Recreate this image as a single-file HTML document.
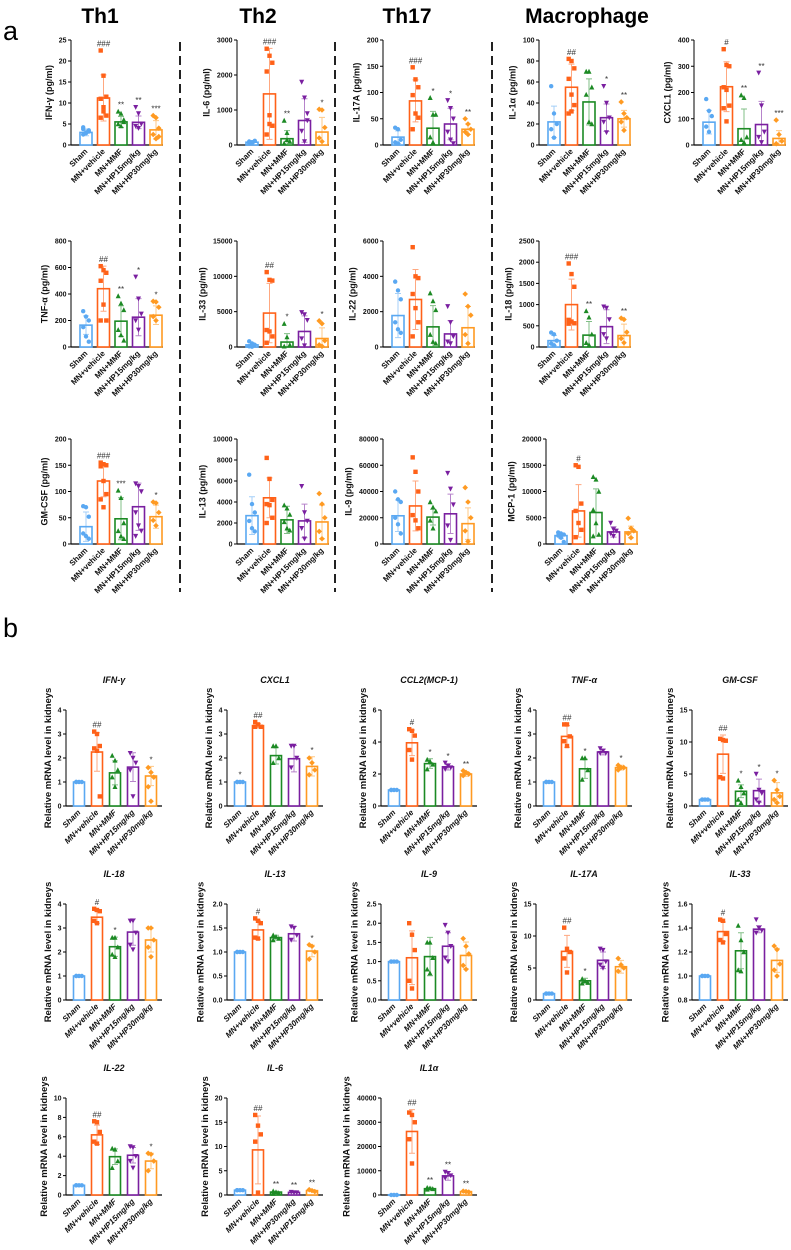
<!DOCTYPE html>
<html><head><meta charset="utf-8"><style>
html,body{margin:0;padding:0;background:#fff;}
svg{display:block;font-family:"Liberation Sans",Arial,sans-serif;}
</style></head><body>
<svg id="fig" width="791" height="1250" viewBox="0 0 791 1250" xmlns="http://www.w3.org/2000/svg">
<text x="3" y="40" font-size="27">a</text>
<text x="3" y="637" font-size="27">b</text>
<text x="100" y="23" font-size="21" font-weight="bold" text-anchor="middle">Th1</text>
<text x="258" y="23" font-size="21" font-weight="bold" text-anchor="middle">Th2</text>
<text x="407" y="23" font-size="21" font-weight="bold" text-anchor="middle">Th17</text>
<text x="587" y="23" font-size="21" font-weight="bold" text-anchor="middle">Macrophage</text>
<line x1="180" y1="42" x2="180" y2="592" stroke="#222" stroke-width="2" stroke-dasharray="9 5"/>
<line x1="335" y1="42" x2="335" y2="592" stroke="#222" stroke-width="2" stroke-dasharray="9 5"/>
<line x1="492" y1="42" x2="492" y2="592" stroke="#222" stroke-width="2" stroke-dasharray="9 5"/>
</svg>
<script>
const groups = ["Sham","MN+vehicle","MN+MMF","MN+HP15mg/kg","MN+HP30mg/kg"];
const groupsIL6 = ["Sham","MN+vehicle","MN+MMF","MN+HP30mg/kg","MN+HP15mg/kg"];
// Panel a
const ifngMeans=[3,11.2,5.5,5.4,3.6], ifngSd=[0.8,5.5,1.3,1.5,2.2], ifngAnn=["","###","**","**","***"];
const ifngPts=[[2.5,3,3.5,4.2,2.8,3.2,3.8],[22.5,16.5,11.5,11,9,7,6.5,8],[8,7.5,6,5,4.5,5.5],[9,7.5,5,4.5,4],[7,6.5,4,2.5,1.5,2]];
const ifngTicks=[0,5,10,15,20,25];
const il6Means=[80,1460,180,700,370], il6Sd=[40,1300,230,620,420], il6Ann=["","###","**","","*"];
const il6Pts=[[50,80,120,100,60],[2750,2550,2350,2100,850,550,300,600],[700,350,100,50,150],[1800,1350,900,400,100,700],[1020,1000,500,200,100]];
const il6Ticks=[0,1000,2000,3000];
const il17Means=[15,84,32,40,30], il17Sd=[12,40,32,30,10], il17Ann=["","###","*","*","**"];
const il17Pts=[[33,30,10,5,3],[148,125,110,95,60,52,30],[90,58,58,15,5],[85,70,50,25,10,3],[50,40,30,25,20]];
const il17Ticks=[0,50,100,150,200];
const il1aMeans=[22,55,41,26,25], il1aSd=[15,22,22,13,8], il1aAnn=["","##","","*","**"];
const il1aPts=[[56,30,20,15,7],[82,80,73,63,48,38,30,32],[70,70,55,48,22,20],[56,40,26,22,12],[41,30,26,22,14]];
const il1aTicks=[0,20,40,60,80,100];
const cxclMeans=[87,222,62,78,25], cxclSd=[45,95,75,88,30], cxclAnn=["","#","**","**","***"];
const cxclPts=[[175,130,110,70,50],[365,305,300,220,210,150,140,90],[190,180,30,20,10],[275,150,50,30,10],[95,40,15,5]];
const cxclTicks=[0,100,200,300,400];
const tnfMeans=[165,440,195,225,240], tnfSd=[70,170,115,140,70], tnfAnn=["","##","**","*","*"];
const tnfPts=[[270,230,200,150,80,40],[610,580,560,500,320,200,200],[385,330,280,130,90,50],[530,365,250,200,130],[345,340,300,230,200]];
const tnfTicks=[0,200,400,600,800];
const il33Means=[300,4800,700,2200,1200], il33Sd=[300,4200,1200,2200,1500], il33Ann=["","##","*","","*"];
const il33Pts=[[800,500,300,100,50],[10600,9500,9400,2400,2200,1500,600],[3300,1400,300,100],[4900,4600,3800,1200,200],[3700,3300,900,300,100]];
const il33Ticks=[0,5000,10000,15000];
const il22Means=[1780,2690,1140,740,1090], il22Sd=[1250,1700,1200,750,1200], il22Ann=["","","","",""];
const il22Pts=[[3700,3200,2700,1400,1000,800],[5650,4000,3900,3000,2200,1400,600],[3050,2600,2100,700,300,200],[2300,1400,600,300,200],[3000,2300,1800,700,200]];
const il22Ticks=[0,2000,4000,6000];
const il18Means=[150,1000,280,480,270], il18Sd=[120,600,320,400,270], il18Ann=["","###","**","","**"];
const il18Pts=[[340,300,150,80,40],[1970,1720,1420,640,600,560,550],[850,700,300,100,50],[950,920,650,300,200],[680,650,350,200,100]];
const il18Ticks=[0,500,1000,1500,2000,2500];
const gmMeans=[33,120,48,71,52], gmSd=[28,30,40,45,22], gmAnn=["","###","***","","*"];
const gmPts=[[72,70,52,20,15,10],[155,152,150,148,120,95,85,70],[102,88,40,25,15,10],[115,110,100,60,35,25,15],[80,78,60,45,35]];
const gmTicks=[0,50,100,150,200];
const il13Means=[2700,4400,2300,2200,2100], il13Sd=[1800,1900,1300,1600,1600], il13Ann=["","","","",""];
const il13Pts=[[6600,3800,3000,2200,1500,1200],[8200,6200,4200,3800,3700,2500,2000],[3700,3400,2800,2100,1500,1300],[5500,3000,2200,1500,500],[4800,3800,2500,1200,500]];
const il13Ticks=[0,2000,4000,6000,8000,10000];
const il9Means=[21500,29000,20500,23000,15500], il9Sd=[12000,19000,6000,15000,12000], il9Ann=["","","","",""];
const il9Pts=[[40000,34000,32000,20000,15000,8000],[66000,55000,40000,22000,18000,12000],[32000,28000,25000,18000,12000],[54000,42000,30000,14000,3000],[43000,32000,20000,10000,2000]];
const il9Ticks=[0,20000,40000,60000,80000];
const mcpMeans=[1600,6300,6000,2300,2300], mcpSd=[500,5000,4500,1000,1100], mcpAnn=["","#","","",""];
const mcpPts=[[2200,2000,1800,1600,1200,400],[15000,14700,7700,6300,4000,2700,1300],[12800,12300,10000,6500,4000,1800,1500],[4000,2800,2500,2000,1500],[4900,3000,2500,2000,1200]];
const mcpTicks=[0,5000,10000,15000,20000];
// Panel b
const bIfnMeans=[1,2.25,1.38,1.62,1.25], bIfnSd=[0.03,0.8,0.5,0.6,0.4], bIfnAnn=["","##","","","*"];
const bIfnPts=[[1,1,1,1],[3.1,3,2.5,2.4,2.3,0.4],[2.1,1.9,1.5,1.2,0.8],[2.2,2,1.8,1.5,0.4],[1.6,1.4,1.2,0.8,0.2]];
const bIfnTicks=[0,1,2,3,4];
const bCxMeans=[1,3.35,2.1,1.97,1.65], bCxSd=[0.02,0.08,0.35,0.55,0.4], bCxAnn=["*","##","","","*"];
const bCxPts=[[1,1,1,1],[3.5,3.4,3.3,3.3],[2.5,2.5,2,1.8],[2.5,2.5,2,1.6],[2,1.8,1.5,1.3]];
const bCxTicks=[0,1,2,3,4];
const bCclMeans=[1,3.95,2.65,2.45,2], bCclSd=[0.05,0.8,0.3,0.2,0.15], bCclAnn=["","#","*","*","**"];
const bCclPts=[[1,1,1,1],[4.8,4.7,4.4,3.5,2.9],[2.9,2.8,2.6,2.3],[2.7,2.5,2.4,2.3],[2.2,2.1,2,1.9]];
const bCclTicks=[0,2,4,6];
const bTnfMeans=[1,2.9,1.55,2.25,1.6], bTnfSd=[0.03,0.45,0.4,0.12,0.1], bTnfAnn=["","##","*","","*"];
const bTnfPts=[[1,1,1,1],[3.4,3.4,2.9,2.7,2.5],[2,2,1.5,1.1],[2.4,2.3,2.2,2.2],[1.7,1.6,1.6,1.5]];
const bTnfTicks=[0,1,2,3,4];
const bGmMeans=[1,8.1,2.3,2.4,2.05], bGmSd=[0.05,3,1,1.8,1.6], bGmAnn=["","##","*","*","*"];
const bGmPts=[[1,1,1,1],[10.5,10.3,10.2,4.5,4.3],[4,3,2,1,0.5],[5,2.5,2,1,0.5],[4,2.5,1.5,1,0.5]];
const bGmTicks=[0,5,10,15];
const bIl18Means=[1,3.45,2.22,2.83,2.5], bIl18Sd=[0.03,0.25,0.4,0.55,0.5], bIl18Ann=["","#","*","",""];
const bIl18Pts=[[1,1,1,1],[3.8,3.75,3.7,3.3,3.2],[2.6,2.6,2.2,1.9,1.8],[3.3,3.3,2.8,2.3,2.1],[3,3,2.5,2.2,1.8]];
const bIl18Ticks=[0,1,2,3,4];
const bIl13Means=[1,1.46,1.3,1.38,1.02], bIl13Sd=[0.02,0.2,0.05,0.15,0.12], bIl13Ann=["","#","","","*"];
const bIl13Pts=[[1,1,1,1],[1.7,1.65,1.6,1.3,1.28],[1.35,1.32,1.28,1.25],[1.53,1.5,1.35,1.25],[1.15,1.12,1,0.85]];
const bIl13Ticks=[0,0.5,1,1.5,2], bIl13Labels=["0.0","0.5","1.0","1.5","2.0"];
const bIl9Means=[1,1.1,1.13,1.4,1.16], bIl9Sd=[0.02,0.7,0.5,0.35,0.35], bIl9Ann=["","","","",""];
const bIl9Pts=[[1,1,1,1],[2,1.7,1.3,0.5,0.3],[1.5,1.5,1.1,0.8,0.7],[1.95,1.75,1.4,1.1,1],[1.6,1.4,1.2,0.9,0.8]];
const bIl9Ticks=[0,0.5,1,1.5,2,2.5], bIl9Labels=["0.0","0.5","1.0","1.5","2.0","2.5"];
const bIl17Means=[1,7.6,3,6.2,5.2], bIl17Sd=[0.05,2.5,0.4,1.3,1], bIl17Ann=["","##","*","",""];
const bIl17Pts=[[1,1,1,1],[11.3,8,7.5,6.5,4.3],[3.3,3,2.7,2.6],[8,7.8,6,5.5,5],[6.5,5.5,5,4.5]];
const bIl17Ticks=[0,5,10,15];
const bIl33Means=[1,1.37,1.21,1.39,1.13], bIl33Sd=[0.005,0.08,0.15,0.03,0.1], bIl33Ann=["","#","","",""];
const bIl33Pts=[[1,1,1,1],[1.47,1.46,1.35,1.3,1.28],[1.42,1.3,1.2,1.05,1.04],[1.47,1.4,1.38,1.36],[1.25,1.22,1.1,1.05,1.0]];
const bIl33Ticks=[0.8,1.0,1.2,1.4,1.6], bIl33Labels=["0.8","1.0","1.2","1.4","1.6"];
const bIl22Means=[1,6.2,3.95,4.1,3.5], bIl22Sd=[0.05,1,0.8,0.8,0.8], bIl22Ann=["","##","","","*"];
const bIl22Pts=[[1,1,1,1],[7.6,7.5,6.5,5.5,5.3],[4.8,4.7,3.5,2.8],[5,4.9,4,3.5,2.8],[4.3,4.2,3.5,2.5]];
const bIl22Ticks=[0,2,4,6,8,10];
const bIl6Means=[1,9.3,0.6,0.55,0.9], bIl6Sd=[0.05,7,0.2,0.1,0.2], bIl6Ann=["","##","**","**","**"];
const bIl6Pts=[[1,1,1,1],[16.5,14.3,12.5,11,0.5],[0.8,0.6,0.4,0.3],[0.6,0.5,0.5],[1.1,0.9,0.7]];
const bIl6Ticks=[0,5,10,15,20];
const bIl1aMeans=[100,26200,2600,7900,1400], bIl1aSd=[50,9000,600,1800,500], bIl1aAnn=["","##","**","**","**"];
const bIl1aPts=[[0,0,0],[34000,33000,30000,23000,13000],[3000,2800,2500,2300],[9500,9000,8000,7000],[1600,1400,1200]];
const bIl1aTicks=[0,10000,20000,30000,40000];

const colors=["#5aa8f2","#ff6118","#1c8a24","#7a1fa0","#ff9a22"];
const NS="http://www.w3.org/2000/svg";
const svg=document.getElementById("fig");
function mk(tag,attrs,parent){const e=document.createElementNS(NS,tag);for(const k in attrs)e.setAttribute(k,attrs[k]);(parent||svg).appendChild(e);return e;}

const aRowT=[40,241,439], aRowB=[145,347,544], aCol=[71,237,383,539,694];
const bRowT=[710,904,1098], bRowB=[806,1000,1195], bCol=[66,227,381,536,692];
const charts=[
 {n:"ifn-gamma",p:"a",r:0,c:0,yl:"IFN-γ (pg/ml)",m:ifngMeans,s:ifngSd,pt:ifngPts,an:ifngAnn,t:ifngTicks},
 {n:"il-6",p:"a",r:0,c:1,yl:"IL-6  (pg/ml)",m:il6Means,s:il6Sd,pt:il6Pts,an:il6Ann,t:il6Ticks},
 {n:"il-17a",p:"a",r:0,c:2,yl:"IL-17A (pg/ml)",m:il17Means,s:il17Sd,pt:il17Pts,an:il17Ann,t:il17Ticks},
 {n:"il-1a",p:"a",r:0,c:3,yl:"IL-1α (pg/ml)",m:il1aMeans,s:il1aSd,pt:il1aPts,an:il1aAnn,t:il1aTicks},
 {n:"cxcl1",p:"a",r:0,c:4,yl:"CXCL1 (pg/ml)",m:cxclMeans,s:cxclSd,pt:cxclPts,an:cxclAnn,t:cxclTicks},
 {n:"tnf-a",p:"a",r:1,c:0,yl:"TNF-α (pg/ml)",m:tnfMeans,s:tnfSd,pt:tnfPts,an:tnfAnn,t:tnfTicks},
 {n:"il-33",p:"a",r:1,c:1,yl:"IL-33 (pg/ml)",m:il33Means,s:il33Sd,pt:il33Pts,an:il33Ann,t:il33Ticks},
 {n:"il-22",p:"a",r:1,c:2,yl:"IL-22  (pg/ml)",m:il22Means,s:il22Sd,pt:il22Pts,an:il22Ann,t:il22Ticks},
 {n:"il-18",p:"a",r:1,c:3,yl:"IL-18  (pg/ml)",m:il18Means,s:il18Sd,pt:il18Pts,an:il18Ann,t:il18Ticks},
 {n:"gm-csf",p:"a",r:2,c:0,yl:"GM-CSF  (pg/ml)",m:gmMeans,s:gmSd,pt:gmPts,an:gmAnn,t:gmTicks},
 {n:"il-13",p:"a",r:2,c:1,yl:"IL-13 (pg/ml)",m:il13Means,s:il13Sd,pt:il13Pts,an:il13Ann,t:il13Ticks},
 {n:"il-9",p:"a",r:2,c:2,yl:"IL-9  (pg/ml)",m:il9Means,s:il9Sd,pt:il9Pts,an:il9Ann,t:il9Ticks},
 {n:"mcp-1",p:"a",r:2,c:3,dx:7,yl:"MCP-1 (pg/ml)",m:mcpMeans,s:mcpSd,pt:mcpPts,an:mcpAnn,t:mcpTicks},
 {n:"mrna-ifn-gamma",p:"b",r:0,c:0,ti:"IFN-γ",m:bIfnMeans,s:bIfnSd,pt:bIfnPts,an:bIfnAnn,t:bIfnTicks},
 {n:"mrna-cxcl1",p:"b",r:0,c:1,ti:"CXCL1",m:bCxMeans,s:bCxSd,pt:bCxPts,an:bCxAnn,t:bCxTicks},
 {n:"mrna-ccl2",p:"b",r:0,c:2,ti:"CCL2(MCP-1)",m:bCclMeans,s:bCclSd,pt:bCclPts,an:bCclAnn,t:bCclTicks},
 {n:"mrna-tnf-a",p:"b",r:0,c:3,ti:"TNF-α",m:bTnfMeans,s:bTnfSd,pt:bTnfPts,an:bTnfAnn,t:bTnfTicks},
 {n:"mrna-gm-csf",p:"b",r:0,c:4,ti:"GM-CSF",m:bGmMeans,s:bGmSd,pt:bGmPts,an:bGmAnn,t:bGmTicks},
 {n:"mrna-il-18",p:"b",r:1,c:0,ti:"IL-18",m:bIl18Means,s:bIl18Sd,pt:bIl18Pts,an:bIl18Ann,t:bIl18Ticks},
 {n:"mrna-il-13",p:"b",r:1,c:1,ti:"IL-13",m:bIl13Means,s:bIl13Sd,pt:bIl13Pts,an:bIl13Ann,t:bIl13Ticks,tl:bIl13Labels},
 {n:"mrna-il-9",p:"b",r:1,c:2,ti:"IL-9",m:bIl9Means,s:bIl9Sd,pt:bIl9Pts,an:bIl9Ann,t:bIl9Ticks,tl:bIl9Labels},
 {n:"mrna-il-17a",p:"b",r:1,c:3,ti:"IL-17A",m:bIl17Means,s:bIl17Sd,pt:bIl17Pts,an:bIl17Ann,t:bIl17Ticks},
 {n:"mrna-il-33",p:"b",r:1,c:4,ti:"IL-33",m:bIl33Means,s:bIl33Sd,pt:bIl33Pts,an:bIl33Ann,t:bIl33Ticks,tl:bIl33Labels},
 {n:"mrna-il-22",p:"b",r:2,c:0,ti:"IL-22",m:bIl22Means,s:bIl22Sd,pt:bIl22Pts,an:bIl22Ann,t:bIl22Ticks},
 {n:"mrna-il-6",p:"b",r:2,c:1,ti:"IL-6",m:bIl6Means,s:bIl6Sd,pt:bIl6Pts,an:bIl6Ann,t:bIl6Ticks,cats:groupsIL6},
 {n:"mrna-il1a",p:"b",r:2,c:2,ti:"IL1α",m:bIl1aMeans,s:bIl1aSd,pt:bIl1aPts,an:bIl1aAnn,t:bIl1aTicks}
];

function marker(g,k,x,y,col){
 const r=2.2;let e;
 if(k===0)e=mk("circle",{cx:x,cy:y,r:r,fill:col},g);
 else if(k===1)e=mk("rect",{x:x-r,y:y-r,width:2*r,height:2*r,fill:col},g);
 else if(k===2)e=mk("polygon",{points:`${x},${y-r-0.5} ${x-r-0.3},${y+r} ${x+r+0.3},${y+r}`,fill:col},g);
 else if(k===3)e=mk("polygon",{points:`${x},${y+r+0.5} ${x-r-0.3},${y-r} ${x+r+0.3},${y-r}`,fill:col},g);
 else e=mk("polygon",{points:`${x},${y-r-0.6} ${x+r+0.6},${y} ${x},${y+r+0.6} ${x-r-0.6},${y}`,fill:col},g);
 
 
}

charts.forEach(cf=>{
 const isA=cf.p==="a";
 const X=(isA?aCol[cf.c]:bCol[cf.c])+(cf.dx||0);
 const T=isA?aRowT[cf.r]:bRowT[cf.r], B=isA?aRowB[cf.r]:bRowB[cf.r];
 const W=isA?92:96, first=isA?15:13, step=isA?17.5:18, bw=isA?12:11;
 const mn=cf.t[0], mx=cf.t[cf.t.length-1];
 const y=v=>B-(Math.max(v,mn)-mn)/(mx-mn)*(B-T);
 const xb=i=>X+first+i*step;
 const g=mk("g",{});
 
 
 const ya=mk("line",{x1:X,y1:T,x2:X,y2:B,stroke:"#000","stroke-width":1},g);
 
 
 const xa=mk("line",{x1:X,y1:B,x2:X+W,y2:B,stroke:"#000","stroke-width":1.2},g);
 
 
 const labels=cf.tl||cf.t.map(String);
 let maxLen=0;
 cf.t.forEach((tv,i)=>{
  const ty=y(tv);
  mk("line",{x1:X-3,y1:ty,x2:X,y2:ty,stroke:"#000","stroke-width":1},g);
  const tt=mk("text",{x:X-4.5,y:ty+2.5,"font-size":7,"font-weight":"bold","text-anchor":"end",fill:"#111"},g);
  tt.textContent=labels[i];
  
  
  maxLen=Math.max(maxLen,labels[i].length);
 });
 const lx=X-5-maxLen*4.1-6;
 const yl=mk("text",{x:lx,y:(T+B)/2,"font-size":isA?9:9.5,"font-weight":"bold","text-anchor":"middle",transform:`rotate(-90 ${lx} ${(T+B)/2})`,fill:"#111"},g);
 yl.textContent=isA?cf.yl:"Relative mRNA level in kidneys";
 
 
 if(cf.ti){
  const tt=mk("text",{x:X+W/2,y:T-27,"font-size":9,"font-weight":"bold","font-style":"italic","text-anchor":"middle",fill:"#111"},g);
  tt.textContent=cf.ti;
  
  
 }
 const cats=cf.cats||groups;
 cf.m.forEach((mv,i)=>{
  const cx=xb(i), col=colors[i];
  const top=y(mv);
  const bar=mk("rect",{x:cx-bw/2,y:top,width:bw,height:Math.max(B-top,0.5),fill:"#fff",stroke:col,"stroke-width":1.6},g);
  
  
  const eu=y(mv+cf.s[i]), ed=y(mv-cf.s[i]);
  const eb=mk("path",{d:`M${cx},${ed}V${eu}M${cx-3},${eu}H${cx+3}M${cx-3},${ed}H${cx+3}`,stroke:col,"stroke-width":1,opacity:0.55,fill:"none"},g);
  
  
  let pmax=-Infinity;
  cf.pt[i].forEach((pv,j)=>{
   const off=((j%3)-1)*2.8;
   marker(g,i,cx+off,y(pv),col);
   pmax=Math.max(pmax,pv);
  });
  if(cf.an[i]){
   const ay=Math.min(eu,y(pmax))-4;
   const at=mk("text",{x:cx,y:ay,"font-size":8,"text-anchor":"middle",fill:"#333"},g);
   at.textContent=cf.an[i];
   
   
  }
  const lyy=B+7;
  const ct=mk("text",{x:cx+2,y:lyy,"font-size":8,"font-weight":"bold","font-style":isA?"normal":"italic","text-anchor":"end",transform:`rotate(-45 ${cx+2} ${lyy})`,fill:"#111"},g);
  ct.textContent=cats[i];
  
  
 });
});
</script>
</body></html>
